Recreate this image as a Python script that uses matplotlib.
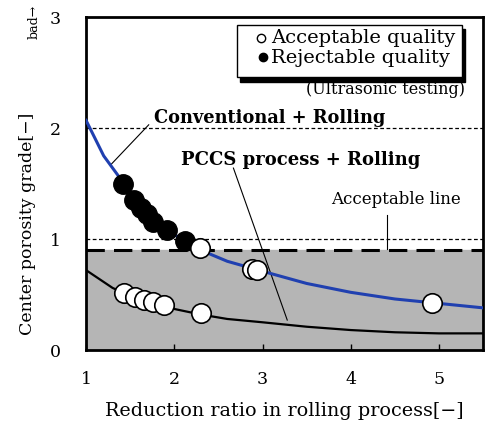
#!/usr/bin/env python3
"""Center porosity grade vs. reduction ratio in rolling (conventional vs PCCS)."""
import matplotlib
matplotlib.use("Agg")
import matplotlib.pyplot as plt
from matplotlib.patches import Rectangle

plt.rcParams["font.family"] = ["DejaVu Serif"]

# Fitted curves
conv_x = [1.0, 1.2, 1.43, 1.7, 2.0, 2.3, 2.6, 3.0, 3.5, 4.0, 4.5, 5.0, 5.5]
conv_y = [2.07, 1.75, 1.5, 1.22, 1.04, 0.9, 0.8, 0.71, 0.6, 0.52, 0.46, 0.42, 0.38]
pccs_x = [1.0, 1.3, 1.6, 2.0, 2.3, 2.6, 3.0, 3.5, 4.0, 4.5, 5.0, 5.5]
pccs_y = [0.72, 0.56, 0.45, 0.37, 0.32, 0.28, 0.25, 0.21, 0.18, 0.16, 0.15, 0.15]

# Measured points
reject_x = [1.42, 1.54, 1.62, 1.69, 1.76, 1.92, 2.12]
reject_y = [1.50, 1.35, 1.28, 1.23, 1.15, 1.08, 0.98]
accept_x = [2.29, 2.88, 2.94, 4.92, 1.43, 1.56, 1.66, 1.76, 1.88, 2.30]
accept_y = [0.92, 0.73, 0.72, 0.42, 0.51, 0.48, 0.45, 0.43, 0.41, 0.33]

ACCEPT_LINE = 0.9

fig = plt.figure(figsize=(4.89, 4.30), dpi=100)
ax = fig.add_axes([0.176, 0.186, 0.812, 0.774])

ax.axhspan(0, ACCEPT_LINE, color="#b5b5b5", zorder=0)
ax.axhline(ACCEPT_LINE, color="black", lw=2.2, ls=(0, (6, 3)), zorder=2)
ax.axhline(1.0, color="black", lw=0.9, ls=(0, (3, 2)), zorder=1)
ax.axhline(2.0, color="black", lw=0.9, ls=(0, (3, 2)), zorder=1)

ax.plot(conv_x, conv_y, color="#2040b0", lw=2.2, zorder=3)
ax.plot(pccs_x, pccs_y, color="black", lw=1.6, zorder=3)

ax.plot(reject_x, reject_y, "o", ms=14, mfc="black", mec="black", zorder=5)
ax.plot(accept_x, accept_y, "o", ms=14, mfc="white", mec="black", mew=1.2, zorder=5)

ax.set_xlim(1, 5.5)
ax.set_ylim(0, 3)
ax.set_xticks([1, 2, 3, 4, 5])
ax.set_yticks([0, 1, 2, 3])
ax.tick_params(axis="x", direction="in", length=4, width=1, pad=15, labelsize=12.5)
ax.tick_params(axis="y", length=0, pad=18, labelsize=12.5)
for s in ax.spines.values():
    s.set_linewidth(2)

ax.set_xlabel("Reduction ratio in rolling process[\u2212]", fontsize=13.8, labelpad=10)
fig.text(0.057, 0.48, "Center porosity grade[\u2212]", rotation=90, fontsize=12.5,
         ha="center", va="center")
fig.text(0.07, 0.95, "bad\u2192", rotation=90, fontsize=9, ha="center", va="center")

# annotations
ax.text(1.77, 2.09, "Conventional + Rolling", fontsize=12.8, fontweight="bold",
        va="center", ha="left")
ax.plot([1.71, 1.28], [2.03, 1.67], color="black", lw=0.8)
ax.text(2.08, 1.71, "PCCS process + Rolling", fontsize=13, fontweight="bold",
        va="center", ha="left")
ax.plot([2.67, 3.28], [1.64, 0.27], color="black", lw=0.8)
ax.text(4.51, 1.36, "Acceptable line", fontsize=12, va="center", ha="center")
ax.plot([4.41, 4.41], [1.22, 0.91], color="black", lw=0.8)

# legend box with shadow
ax.add_patch(Rectangle((2.75, 2.42), 2.55, 0.47, facecolor="black",
                       edgecolor="black", zorder=6))
ax.add_patch(Rectangle((2.71, 2.46), 2.55, 0.47, facecolor="white",
                       edgecolor="black", lw=1, zorder=7))
ax.plot([2.98], [2.81], "o", ms=6, mfc="white", mec="black", zorder=8)
ax.plot([3.0], [2.64], "o", ms=6, mfc="black", mec="black", zorder=8)
ax.text(3.1, 2.81, "Acceptable quality", fontsize=14, va="center", zorder=8)
ax.text(3.1, 2.63, "Rejectable quality", fontsize=14, va="center", zorder=8)
ax.text(5.29, 2.35, "(Ultrasonic testing)", fontsize=11.5, va="center", ha="right")

fig.savefig("out.png", dpi=100)
